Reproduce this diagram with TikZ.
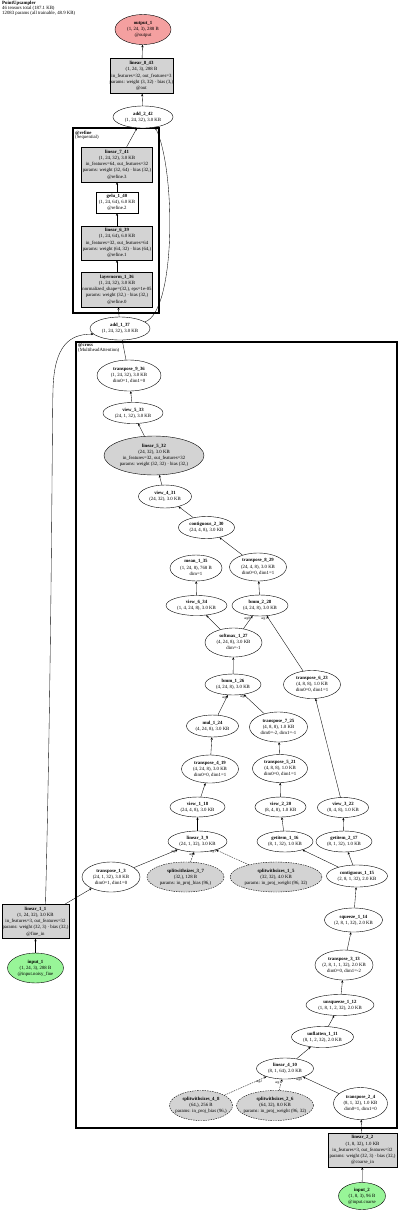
\documentclass[tikz,border=0pt]{standalone}
\usepackage{fontspec}
\setmainfont{Liberation Serif}
\usetikzlibrary{shapes.geometric,arrows.meta}
\definecolor{gfill}{HTML}{D3D3D3}
\definecolor{rfill}{HTML}{F4A0A0}
\definecolor{lgreen}{HTML}{98F598}
\newcommand{\zt}[1]{\makebox[0pt]{\raisebox{-1.2pt}[0pt][0pt]{\begin{tabular}[c]{@{}c@{}}#1\end{tabular}}}}
\tikzset{
  base/.style={draw=black, line width=0.4pt, inner sep=0pt, font=\fontsize{4.8}{6.2}\selectfont},
  sz/.style 2 args={minimum width=#1pt, minimum height=#2pt},
  ell/.style={base, ellipse, fill=white},
  gell/.style={base, ellipse, fill=gfill},
  sell/.style={base, ellipse, fill=gfill, dash pattern=on 1.5pt off 1pt},
  gbox/.style={base, rectangle, fill=gfill},
  wbox/.style={base, rectangle, fill=white},
  redell/.style={base, ellipse, fill=rfill},
  grnell/.style={base, ellipse, fill=lgreen},
  edge/.style={-{Stealth[length=2.6pt,width=2.2pt]}, line width=0.35pt},
  dedge/.style={edge, dash pattern=on 1.5pt off 1pt},
  lbl/.style={font=\fontsize{3.4}{4}\selectfont, inner sep=0pt},
  cluster/.style={draw=black, line width=1.6pt, inner sep=0pt},
  cltext/.style={anchor=north west, align=left, inner sep=0pt, font=\fontsize{4.8}{4.9}\selectfont},
}
\begin{document}
\begin{tikzpicture}[x=1pt, y=-1pt]
\useasboundingbox (0,0) rectangle (400,1211);
\fill[white] (0,0) rectangle (400,1211);

% header
\node[cltext] (hdr) at (2,0.8) {\textbf{PointUpsampler}\\46 tensors total (187.1 KB)\\12083 params (all trainable, 48.9 KB)};

% clusters
\node[cluster, sz={86}{185}] (refine) at (116,220.5) {};
\node[cltext] (refinelbl) at (75,130.5) {\textbf{@refine}\\(Sequential)};
\node[cluster, sz={321}{786}] (cross) at (236.5,735) {};
\node[cltext] (crosslbl) at (78,343.5) {\textbf{@cross}\\(MultiheadAttention)};

% top part
\node[redell, sz={56}{30}] (out1) at (143,29.5) {\zt{\textbf{output\_1}\\(1, 24, 3), 288 B\\@output}};
\node[gbox, sz={63}{35}] (lin843) at (141.5,76) {\zt{\textbf{linear\_8\_43}\\(1, 24, 3), 288 B\\in\_features=32, out\_features=3\\params: weight (3, 32) · bias (3,)\\@out}};
\node[ell, sz={60}{22}] (add242) at (143,117) {\zt{\textbf{add\_2\_42}\\(1, 24, 32), 3.0 KB}};

\node[gbox, sz={71}{35}] (lin741) at (117,164.5) {\zt{\textbf{linear\_7\_41}\\(1, 24, 32), 3.0 KB\\in\_features=64, out\_features=32\\params: weight (32, 64) · bias (32,)\\@refine.3}};
\node[wbox, sz={42}{21}] (gelu) at (117,202.5) {\zt{\textbf{gelu\_1\_40}\\(1, 24, 64), 6.0 KB\\@refine.2}};
\node[gbox, sz={71}{34}] (lin639) at (117,243) {\zt{\textbf{linear\_6\_39}\\(1, 24, 64), 6.0 KB\\in\_features=32, out\_features=64\\params: weight (64, 32) · bias (64,)\\@refine.1}};
\node[gbox, sz={71}{35}] (lnorm) at (117,289.5) {\zt{\textbf{layernorm\_1\_36}\\(1, 24, 32), 3.0 KB\\normalized\_shape=(32,), eps=1e-05\\params: weight (32,) · bias (32,)\\@refine.0}};
\node[ell, sz={60}{23}] (add137) at (120,328.5) {\zt{\textbf{add\_1\_37}\\(1, 24, 32), 3.0 KB}};

% cross attention
\node[ell, sz={64}{31}] (tr936) at (129,375.5) {\zt{\textbf{transpose\_9\_36}\\(1, 24, 32), 3.0 KB\\dim0=1, dim1=0}};
\node[ell, sz={60}{21}] (view533) at (133,413) {\zt{\textbf{view\_5\_33}\\(24, 1, 32), 3.0 KB}};
\node[gell, sz={100}{39}] (lin532) at (154,455.5) {\zt{\textbf{linear\_5\_32}\\(24, 32), 3.0 KB\\in\_features=32, out\_features=32\\params: weight (32, 32) · bias (32,)}};
\node[ell, sz={53}{23}] (view431) at (165,496.5) {\zt{\textbf{view\_4\_31}\\(24, 32), 3.0 KB}};
\node[ell, sz={56}{22}] (cont230) at (206.5,527.5) {\zt{\textbf{contiguous\_2\_30}\\(24, 4, 8), 3.0 KB}};
\node[ell, sz={52}{26}] (mean135) at (196,568) {\zt{\textbf{mean\_1\_35}\\(1, 24, 8), 768 B\\dim=1}};
\node[ell, sz={57}{28}] (tr829) at (258,567) {\zt{\textbf{transpose\_8\_29}\\(24, 4, 8), 3.0 KB\\dim0=0, dim1=1}};
\node[ell, sz={61}{20}] (view634) at (196.5,605.5) {\zt{\textbf{view\_6\_34}\\(1, 4, 24, 8), 3.0 KB}};
\node[ell, sz={56}{21}] (bmm228) at (260,605.5) {\zt{\textbf{bmm\_2\_28}\\(4, 24, 8), 3.0 KB}};
\node[ell, sz={57}{29}] (soft127) at (233.5,642.5) {\zt{\textbf{softmax\_1\_27}\\(4, 24, 8), 3.0 KB\\dim=-1}};
\node[ell, sz={56}{21}] (bmm126) at (233,684.5) {\zt{\textbf{bmm\_1\_26}\\(4, 24, 8), 3.0 KB}};
\node[ell, sz={57}{28}] (tr623) at (312,684.5) {\zt{\textbf{transpose\_6\_23}\\(4, 8, 8), 1.0 KB\\dim0=0, dim1=1}};
\node[ell, sz={52}{22}] (mul124) at (212.5,726) {\zt{\textbf{mul\_1\_24}\\(4, 24, 8), 3.0 KB}};
\node[ell, sz={58}{30}] (tr725) at (278.5,727) {\zt{\textbf{transpose\_7\_25}\\(4, 8, 8), 1.0 KB\\dim0=-2, dim1=-1}};
\node[ell, sz={57}{28}] (tr419) at (210,769) {\zt{\textbf{transpose\_4\_19}\\(4, 24, 8), 3.0 KB\\dim0=0, dim1=1}};
\node[ell, sz={55}{28}] (tr521) at (280,768.5) {\zt{\textbf{transpose\_5\_21}\\(4, 8, 8), 1.0 KB\\dim0=0, dim1=1}};
\node[ell, sz={55}{20}] (view118) at (197.5,807) {\zt{\textbf{view\_1\_18}\\(24, 4, 8), 3.0 KB}};
\node[ell, sz={51}{20}] (view220) at (280.5,807) {\zt{\textbf{view\_2\_20}\\(8, 4, 8), 1.0 KB}};
\node[ell, sz={51}{20}] (view322) at (343,807.5) {\zt{\textbf{view\_3\_22}\\(8, 4, 8), 1.0 KB}};
\node[ell, sz={59}{21}] (lin39) at (197.5,841.5) {\zt{\textbf{linear\_3\_9}\\(24, 1, 32), 3.0 KB}};
\node[ell, sz={56}{21}] (gi116) at (285,841.5) {\zt{\textbf{getitem\_1\_16}\\(8, 1, 32), 1.0 KB}};
\node[ell, sz={56}{21}] (gi217) at (344,841.5) {\zt{\textbf{getitem\_2\_17}\\(8, 1, 32), 1.0 KB}};
\node[ell, sz={58}{30}] (tr13) at (111,877) {\zt{\textbf{transpose\_1\_3}\\(24, 1, 32), 3.0 KB\\dim0=1, dim1=0}};
\node[sell, sz={77}{30}] (sws37) at (185.5,877) {\zt{\textbf{splitwithsizes\_3\_7}\\(32,), 128 B\\params: in\_proj\_bias (96,)}};
\node[sell, sz={92}{30}] (sws15) at (276,877) {\zt{\textbf{splitwithsizes\_1\_5}\\(32, 32), 4.0 KB\\params: in\_proj\_weight (96, 32)}};
\node[ell, sz={61}{22}] (cont115) at (357,876) {\zt{\textbf{contiguous\_1\_15}\\(2, 8, 1, 32), 2.0 KB}};
\node[ell, sz={58}{24}] (sq114) at (353.5,920) {\zt{\textbf{squeeze\_1\_14}\\(2, 8, 1, 32), 2.0 KB}};
\node[ell, sz={58}{30}] (tr313) at (344,965) {\zt{\textbf{transpose\_3\_13}\\(2, 8, 1, 1, 32), 2.0 KB\\dim0=0, dim1=-2}};
\node[ell, sz={68}{21}] (unsq112) at (340,1005) {\zt{\textbf{unsqueeze\_1\_12}\\(1, 8, 1, 2, 32), 2.0 KB}};
\node[ell, sz={62}{21}] (unfl111) at (322.5,1037) {\zt{\textbf{unflatten\_1\_11}\\(8, 1, 2, 32), 2.0 KB}};
\node[ell, sz={57}{21}] (lin410) at (285,1068.5) {\zt{\textbf{linear\_4\_10}\\(8, 1, 64), 2.0 KB}};
\node[sell, sz={63}{30}] (sws48) at (201,1105.5) {\zt{\textbf{splitwithsizes\_4\_8}\\(64,), 256 B\\params: in\_proj\_bias (96,)}};
\node[sell, sz={77}{30}] (sws26) at (275,1105.5) {\zt{\textbf{splitwithsizes\_2\_6}\\(64, 32), 8.0 KB\\params: in\_proj\_weight (96, 32)}};
\node[ell, sz={54}{32}] (tr24) at (360.5,1103.5) {\zt{\textbf{transpose\_2\_4}\\(8, 1, 32), 1.0 KB\\dim0=1, dim1=0}};

% inputs
\node[gbox, sz={67}{34}] (lin11) at (35.5,921.5) {\zt{\textbf{linear\_1\_1}\\(1, 24, 32), 3.0 KB\\in\_features=3, out\_features=32\\params: weight (32, 3) · bias (32,)\\@fine\_in}};
\node[grnell, sz={56}{30}] (in1) at (35.5,968) {\zt{\textbf{input\_1}\\(1, 24, 3), 288 B\\@input.noisy\_fine}};
\node[gbox, sz={69}{34}] (lin22) at (362.5,1150) {\zt{\textbf{linear\_2\_2}\\(1, 8, 32), 1.0 KB\\in\_features=3, out\_features=32\\params: weight (32, 3) · bias (32,)\\@coarse\_in}};
\node[grnell, sz={47}{27}] (in2) at (362,1196) {\zt{\textbf{input\_2}\\(1, 8, 3), 96 B\\@input.coarse}};

% edges
\draw[edge] (in1) -- (lin11);
\draw[edge] (lin11) -- (tr13);
\draw[edge] ([xshift=10pt]lin11.north) .. controls (52,640) and (52,420) .. (53,390) .. controls (54,345) and (70,334) .. (add137.192);
\draw[edge] (tr13) -- (lin39);
\draw[dedge] (sws37) -- (lin39);
\draw[dedge] (sws15) -- (lin39);
\draw[edge] (lin39) -- (view118);
\draw[edge] (view118) -- (tr419);
\draw[edge] (tr419) -- (mul124);
\draw[edge] (mul124) -- (bmm126);
\draw[edge] (tr725) -- (bmm126);
\draw[edge] (bmm126) -- (soft127);
\draw[edge] (soft127) -- (view634);
\draw[edge] (soft127) -- (bmm228);
\draw[edge] (tr623) -- (bmm228);
\draw[edge] (view634) -- (mean135);
\draw[edge] (bmm228) -- (tr829);
\draw[edge] (tr829) -- (cont230);
\draw[edge] (cont230) -- (view431);
\draw[edge] (view431) -- (lin532);
\draw[edge] (lin532) -- (view533);
\draw[edge] (view533) -- (tr936);
\draw[edge] (tr936) -- (add137);
\draw[edge] (add137) -- (lnorm);
\draw[edge] (lnorm) -- (lin639);
\draw[edge] (lin639) -- (gelu);
\draw[edge] (gelu) -- (lin741);
\draw[edge] (lin741) -- (add242);
\draw[edge] (add137.15) .. controls (176,312) and (176,170) .. (add242.-40);
\draw[edge] (add242) -- (lin843);
\draw[edge] (lin843) -- (out1);
\draw[edge] (view220) -- (tr521);
\draw[edge] (tr521) -- (tr725);
\draw[edge] (gi116) -- (view220);
\draw[edge] (gi217) -- (view322);
\draw[edge] (view322) -- (tr623);
\draw[edge] (cont115) -- (gi116);
\draw[edge] (cont115) -- (gi217);
\draw[edge] (sq114) -- (cont115);
\draw[edge] (tr313) -- (sq114);
\draw[edge] (unsq112) -- (tr313);
\draw[edge] (unfl111) -- (unsq112);
\draw[edge] (lin410) -- (unfl111);
\draw[dedge] (sws48) -- (lin410);
\draw[dedge] (sws26) -- (lin410);
\draw[edge] (tr24) -- (lin410);
\draw[edge] (lin22) -- (tr24);
\draw[edge] (in2) -- (lin22);

% edge labels
\node[lbl] (l1) at (247,618.5) {arg0};
\node[lbl] (l2) at (264,618.5) {arg1};
\node[lbl] (l3) at (225,697.5) {arg0};
\node[lbl] (l4) at (243,697) {arg1};
\node[lbl] (l5) at (174,852) {arg0};
\node[lbl] (l6) at (192,854.5) {arg2};
\node[lbl] (l7) at (213,852) {arg1};
\node[lbl] (l8) at (259,1081.5) {arg2};
\node[lbl] (l9) at (278,1083) {arg1};
\node[lbl] (l10) at (299,1080) {arg0};
\end{tikzpicture}
\end{document}
